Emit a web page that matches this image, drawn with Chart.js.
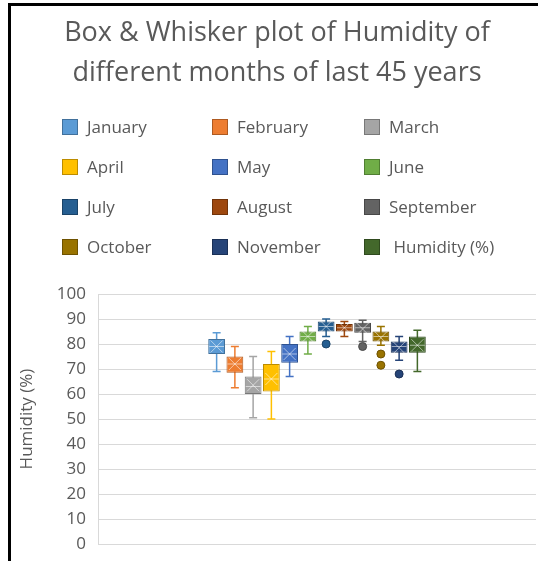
<!DOCTYPE html>
<html>
<head>
<meta charset="utf-8">
<title>Box & Whisker plot of Humidity</title>
<script src="https://cdn.jsdelivr.net/npm/chart.js@4.4.0/dist/chart.umd.min.js"></script>
<style>
  body { margin: 0; background: #fff; }
  #wrap { position: relative; width: 538px; height: 561px; overflow: hidden; font-family: 'Open Sans', sans-serif; color: #595959; }
  #myBoxChart { position: absolute; left: 0; top: 0; }
  .frame-top { position: absolute; left: 8px; top: 3px; right: 0; height: 3px; background: #000; }
  .frame-left { position: absolute; left: 8px; top: 3px; bottom: 0; width: 3px; background: #000; }
  #title { position: absolute; left: 16px; right: 0; top: 11px; text-align: center; font-size: 27px; line-height: 40px; }
  .leg { position: absolute; height: 20px; font-size: 17px; line-height: 20px; white-space: pre; }
  .leg span { position: absolute; left: 0; top: 2px; width: 16px; height: 16px; box-sizing: border-box; border: 1px solid; }
  .leg b { position: absolute; left: 25px; top: 0; font-weight: normal; }
</style>
</head>
<body>
<div id="wrap">
  <canvas id="myBoxChart" width="538" height="561"></canvas>
  <div class="frame-top"></div>
  <div class="frame-left"></div>
  <div id="title">Box &amp; Whisker plot of Humidity of<br>different months of last 45 years</div>
  <div id="legend"></div>
</div>
<script>
// series (one box per month)
var months = ['January', 'February', 'March', 'April', 'May', 'June',
  'July', 'August', 'September', 'October', 'November', ' Humidity (%)'];
var whiskerMin = [69, 62.5, 50.5, 50, 67, 76, 83, 83, 81, 79.5, 73.5, 69];
var q1 =         [76, 68.5, 60, 61, 72.5, 81, 85, 85, 84.5, 81, 76.5, 76.5];
var median =     [79, 72, 63, 66, 76, 83, 87, 86.5, 86.5, 83, 79, 79.5];
var q3 =         [82, 75, 67, 72, 80, 85, 89, 88, 88.5, 85, 81, 83];
var whiskerMax = [84.5, 79, 75, 77, 83, 87, 90, 89, 89.5, 87, 83, 85.5];
var mean =       [79, 72, 63.5, 66, 76, 83, 87, 86.5, 86, 82.5, 78.5, 79.5];
var outliers =   [[], [], [], [], [], [], [80], [], [79], [76, 71.5], [68], []];
var yTicks = [0, 10, 20, 30, 40, 50, 60, 70, 80, 90, 100];

var colors = ['#5B9BD5', '#ED7D31', '#A5A5A5', '#FFC000', '#4472C4', '#70AD47',
  '#255E91', '#9E480E', '#636363', '#997300', '#264478', '#43682B'];
var borders = ['#41719C', '#AE5A21', '#787878', '#BC8C00', '#2F528F', '#507E32',
  '#1A4368', '#713309', '#474747', '#6E5200', '#1B3056', '#2F4A1E'];

// legend in 3 columns like the excel one
function buildLegend() {
  var colX = [62, 212, 364];
  var rowY = [117, 157, 197, 237];
  var html = '';
  for (var i = 0; i < months.length; i++) {
    var c = i % 3;
    var r = Math.floor(i / 3);
    html += '<div class="leg" style="left:' + colX[c] + 'px;top:' + rowY[r] + 'px">' +
      '<span style="background:' + colors[i] + ';border-color:' + borders[i] + '"></span>' +
      '<b>' + months[i] + '</b></div>';
  }
  document.getElementById('legend').innerHTML = html;
}

// whiskers, median, mean and outliers drawn on top of the floating bars
var boxWhisker = {
  id: 'boxWhisker',
  beforeDatasetsDraw: function (chart) {
    var ctx = chart.ctx;
    var y = chart.scales.y;
    ctx.save();
    for (var i = 0; i < months.length; i++) {
      var bar = chart.getDatasetMeta(i).data[0];
      var x = bar.x;
      ctx.strokeStyle = colors[i];
      ctx.lineWidth = 1.5;
      ctx.beginPath();
      ctx.moveTo(x, y.getPixelForValue(whiskerMax[i]));
      ctx.lineTo(x, y.getPixelForValue(whiskerMin[i]));
      // caps
      ctx.moveTo(x - 4, y.getPixelForValue(whiskerMax[i]));
      ctx.lineTo(x + 4, y.getPixelForValue(whiskerMax[i]));
      ctx.moveTo(x - 4, y.getPixelForValue(whiskerMin[i]));
      ctx.lineTo(x + 4, y.getPixelForValue(whiskerMin[i]));
      ctx.stroke();
    }
    ctx.restore();
  },
  afterDatasetsDraw: function (chart) {
    var ctx = chart.ctx;
    var y = chart.scales.y;
    ctx.save();
    for (var i = 0; i < months.length; i++) {
      var bar = chart.getDatasetMeta(i).data[0];
      var x = bar.x;
      var hw = bar.width / 2;
      // median
      ctx.strokeStyle = 'rgba(255,255,255,0.55)';
      ctx.lineWidth = 1;
      ctx.beginPath();
      ctx.moveTo(x - hw + 1, y.getPixelForValue(median[i]));
      ctx.lineTo(x + hw - 1, y.getPixelForValue(median[i]));
      ctx.stroke();
      // mean marker (x)
      var my = y.getPixelForValue(mean[i]);
      ctx.beginPath();
      ctx.moveTo(x - 6, my - 6);
      ctx.lineTo(x + 6, my + 6);
      ctx.moveTo(x + 6, my - 6);
      ctx.lineTo(x - 6, my + 6);
      ctx.stroke();
      // outliers
      for (var k = 0; k < outliers[i].length; k++) {
        ctx.fillStyle = colors[i];
        ctx.strokeStyle = borders[i];
        ctx.beginPath();
        ctx.arc(x, y.getPixelForValue(outliers[i][k]), 4, 0, Math.PI * 2);
        ctx.fill();
        ctx.stroke();
      }
    }
    ctx.restore();
  }
};

function getBoxChart() {
  var datasets = [];
  for (var i = 0; i < months.length; i++) {
    datasets.push({
      label: months[i],
      data: [[q1[i], q3[i]]],
      backgroundColor: colors[i],
      borderColor: borders[i],
      borderWidth: 1,
      borderSkipped: false,
      barPercentage: 0.92,
      categoryPercentage: 0.5
    });
  }
  var myBoxChart = new Chart(document.getElementById('myBoxChart'), {
    type: 'bar',
    data: {
      labels: [''],
      datasets: datasets
    },
    options: {
      responsive: false,
      animation: false,
      layout: { padding: { left: 12, top: 294, right: 2, bottom: 17 } },
      plugins: {
        legend: { display: false },
        title: { display: false },
        tooltip: { enabled: false }
      },
      scales: {
        x: { display: false },
        y: {
          min: 0,
          max: 100,
          afterBuildTicks: function (scale) {
            scale.ticks = yTicks.map(function (v) { return { value: v }; });
          },
          afterFit: function (scale) { scale.width = 86; },
          // invisible tick marks keep the labels away from the axis
          grid: { color: '#D9D9D9', drawTicks: true, tickLength: 9, tickColor: 'rgba(0,0,0,0)' },
          border: { display: true, color: '#D9D9D9' },
          ticks: {
            padding: 3,
            color: '#595959',
            font: { family: 'Open Sans', size: 17 }
          },
          title: {
            display: true,
            text: 'Humidity (%)',
            color: '#595959',
            font: { family: 'Open Sans', size: 17 },
            padding: { top: 5, bottom: 0 }
          }
        }
      }
    },
    plugins: [boxWhisker]
  });
}

buildLegend();
getBoxChart();
</script>
</body>
</html>
